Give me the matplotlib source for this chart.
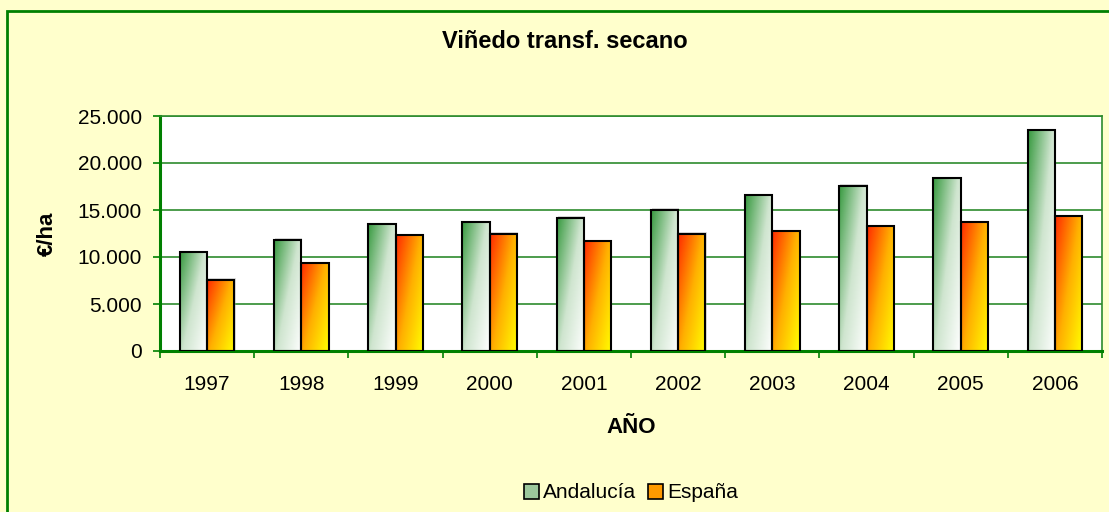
import numpy as np
import matplotlib.pyplot as plt
from matplotlib.patches import Rectangle, Patch
from matplotlib.colors import LinearSegmentedColormap
from matplotlib.ticker import FuncFormatter, MultipleLocator

plt.rcParams['font.family'] = ['Liberation Sans', 'DejaVu Sans']

years = ['1997', '1998', '1999', '2000', '2001', '2002', '2003', '2004', '2005', '2006']
andalucia = [10550, 11850, 13550, 13750, 14200, 15050, 16550, 17600, 18400, 23500]
espana = [7600, 9350, 12300, 12500, 11700, 12500, 12750, 13300, 13750, 14400]

green_cmap = LinearSegmentedColormap.from_list('g', ['#ffffff', '#cfe5cf', '#389a40'])
orange_cmap = LinearSegmentedColormap.from_list('o', ['#ffff00', '#ffb000', '#ff2a00'])

fig = plt.figure(figsize=(11.09, 5.12), dpi=100)
fig.patch.set_facecolor('#ffffcc')
# outer chart border (right and bottom edges fall outside the picture)
fig.patches.append(Rectangle((7 / 1109, -0.2), 1.5, 1.2 - 11 / 512, transform=fig.transFigure,
                             fill=False, edgecolor='#008000', linewidth=2, zorder=0))

ax = fig.add_axes([160 / 1109, 1 - 351 / 512, (1102 - 160) / 1109, (351 - 116) / 512])
ax.set_facecolor('white')

x = np.arange(len(years))
w = 0.29
ax.set_xlim(-0.5, len(years) - 0.5)
ax.set_ylim(0, 25000)

# gradient: dark at top-left, light at bottom-right
gx, gy = np.meshgrid(np.linspace(0, 1, 40), np.linspace(1, 0, 80))
grad = 0.55 * (1 - gx) + 0.45 * gy

for vals, offset, cmap in [(andalucia, -w / 2, green_cmap), (espana, w / 2, orange_cmap)]:
    bars = ax.bar(x + offset, vals, w, facecolor='none', edgecolor='black', linewidth=1.5, zorder=3)
    for b in bars:
        # soft shadow
        ax.add_patch(Rectangle((b.get_x() + 0.012, 0), b.get_width(), b.get_height() + 120,
                               facecolor='#999999', alpha=0.35, edgecolor='none', zorder=1.5))
        im = ax.imshow(grad, cmap=cmap, vmin=0, vmax=1, aspect='auto', zorder=2,
                       extent=[b.get_x(), b.get_x() + b.get_width(), 0, b.get_height()])
        im.set_clip_path(b)

ax.set_xlim(-0.5, len(years) - 0.5)
ax.set_ylim(0, 25000)

ax.yaxis.set_major_locator(MultipleLocator(5000))
ax.yaxis.set_major_formatter(FuncFormatter(lambda v, p: '0' if v == 0 else f'{int(v):,}'.replace(',', '.')))
ax.grid(axis='y', color='#2e8b2e', linewidth=1.2, zorder=0)
ax.set_axisbelow(True)

ax.set_xticks(x)
ax.set_xticklabels(years)
ax.set_xticks(np.arange(-0.5, len(years)), minor=True)
ax.tick_params(axis='x', which='major', length=0, labelsize=15, pad=17)
ax.tick_params(axis='x', which='minor', length=5, color='#008000', width=1.2, direction='out')
ax.tick_params(axis='y', length=5, color='#008000', width=1.2, labelsize=15, pad=8)

for s in ['top', 'right']:
    ax.spines[s].set_color('#2e8b2e')
    ax.spines[s].set_linewidth(1.2)
for s in ['left', 'bottom']:
    ax.spines[s].set_color('#008000')
    ax.spines[s].set_linewidth(2.2)

ax.set_ylabel('€/ha', fontsize=16, fontweight='bold', labelpad=14)
ax.set_xlabel('AÑO', fontsize=16, fontweight='bold', labelpad=17)
fig.text(565 / 1109, 1 - 42 / 512, 'Viñedo transf. secano', fontsize=17, fontweight='bold',
         ha='center', va='center')

handles = [Patch(facecolor='#9cc89c', edgecolor='black', linewidth=1.2, label='Andalucía'),
           Patch(facecolor='#ff9a00', edgecolor='black', linewidth=1.2, label='España')]
fig.legend(handles=handles, loc='center', bbox_to_anchor=(631 / 1109, 1 - 493 / 512), ncol=2,
           frameon=False, fontsize=15, handlelength=0.7, handleheight=0.7,
           handletextpad=0.2, columnspacing=0.6)

fig.savefig('out.png', dpi=100, facecolor=fig.get_facecolor())
